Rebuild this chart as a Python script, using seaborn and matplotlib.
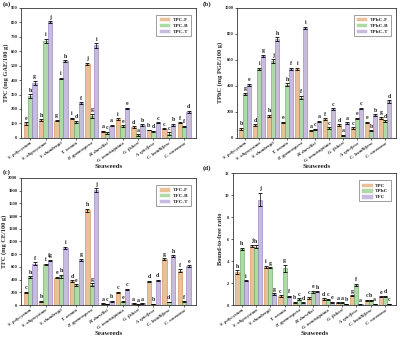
import numpy as np
import pandas as pd
import matplotlib
matplotlib.use('Agg')
import matplotlib.pyplot as plt
import seaborn as sns

# --- data ---
species = ['S. polycystum', 'S. oligocystum', 'S. thunbergii', 'T. ornata', 'P. gymnospora',
           'H. durvillei', 'G. tenuistipitata', 'G. fisheri', 'A. spicifera',
           'C. lentillifera', 'C. racemosa']

# (a) total phenolic content
tpc_f = [100, 125, 120, 135, 510, 45, 130, 75, 55, 65, 105]
tpc_b = [290, 670, 410, 110, 150, 35, 80, 20, 45, 30, 80]
tpc_t = [380, 800, 530, 240, 640, 85, 205, 90, 105, 90, 180]
tpc_err = [[8, 5, 5, 5, 8, 3, 5, 5, 3, 3, 4],
           [12, 15, 5, 8, 15, 8, 8, 5, 4, 8, 5],
           [15, 8, 8, 5, 15, 4, 5, 5, 4, 6, 8]]
tpc_let = [['e', 'h', 'g', 'i', 'j', 'a', 'i', 'd', 'b', 'c', 'f'],
           ['h', 'i', 'i', 'd', 'g', 'c', 'e', 'a', 'd', 'c', 'f'],
           ['g', 'j', 'h', 'f', 'i', 'a', 'e', 'b', 'c', 'b', 'd']]

# (b) total phlorotannin content
tphc_f = [70, 100, 170, 120, 530, 55, 145, 100, 75, 120, 155]
tphc_b = [340, 530, 590, 410, 310, 65, 75, 20, 150, 55, 130]
tphc_t = [410, 630, 760, 530, 845, 125, 220, 115, 225, 175, 280]
tphc_err = [[6, 5, 6, 5, 8, 5, 5, 5, 5, 5, 6],
            [8, 8, 15, 10, 12, 6, 5, 5, 6, 5, 6],
            [8, 8, 12, 8, 10, 6, 6, 5, 6, 6, 8]]
tphc_let = [['b', 'd', 'h', 'e', 'i', 'a', 'f', 'd', 'c', 'e', 'g'],
            ['g', 'i', 'j', 'h', 'f', 'c', 'c', 'a', 'e', 'b', 'd'],
            ['e', 'g', 'h', 'f', 'i', 'a', 'c', 'a', 'c', 'b', 'd']]

# (c) total flavonoid content
tfc_f = [200, 60, 430, 380, 1490, 25, 200, 25, 370, 720, 540]
tfc_b = [440, 640, 450, 310, 320, 15, 55, 10, 15, 45, 55]
tfc_t = [650, 700, 900, 710, 1810, 60, 250, 25, 390, 770, 610]
tfc_err = [[12, 8, 12, 12, 25, 5, 10, 4, 10, 12, 20],
           [15, 10, 25, 15, 25, 4, 6, 3, 4, 4, 5],
           [20, 15, 20, 20, 30, 6, 8, 4, 8, 10, 15]]
tfc_let = [['c', 'b', 'e', 'd', 'h', 'a', 'c', 'a', 'd', 'g', 'f'],
           ['h', 'i', 'h', 'e', 'g', 'c', 'e', 'a', 'b', 'd', 'f'],
           ['f', 'fg', 'i', 'g', 'j', 'b', 'c', 'a', 'd', 'h', 'e']]

# (d) bound-to-free ratio
ratio_tpc = [3.0, 5.4, 3.45, 0.8, 0.25, 0.65, 0.55, 0.2, 0.85, 0.45, 0.75]
ratio_tphc = [5.1, 5.3, 3.4, 3.35, 0.55, 1.2, 0.5, 0.2, 1.85, 0.45, 0.8]
ratio_tfc = [2.2, 9.6, 1.0, 0.8, 0.2, 1.2, 0.25, 0.1, 0.05, 0.1, 0.1]
ratio_err = [[0.15, 0.1, 0.1, 0.1, 0.05, 0.1, 0.05, 0.05, 0.05, 0.05, 0.05],
             [0.1, 0.15, 0.05, 0.3, 0.05, 0.1, 0.05, 0.05, 0.1, 0.05, 0.05],
             [0.05, 0.6, 0.05, 0.05, 0.05, 0.05, 0.05, 0.02, 0.02, 0.02, 0.02]]
ratio_let = [['h', 'j', 'i', 'c', 'b', 'c', 'd', 'a', 'g', 'c', 'e'],
             ['h', 'h', 'g', 'g', 'c', 'e', 'c', 'a', 'f', 'b', 'd'],
             ['i', 'j', 'g', 'f', 'd', 'h', 'e', 'b', 'a', 'a', 'c']]

colors = ['#F8C08A', '#A8E2A0', '#C6B6E4']
edges = ['#C98A4E', '#5FA25A', '#8C78B5']

sns.set_theme(style='ticks')
plt.rcParams['font.family'] = ['Liberation Serif', 'DejaVu Serif']
plt.rcParams['font.weight'] = 'bold'
plt.rcParams['axes.labelweight'] = 'bold'
plt.rcParams['axes.linewidth'] = 0.6
plt.rcParams['xtick.major.width'] = 0.5
plt.rcParams['ytick.major.width'] = 0.5
plt.rcParams['xtick.major.size'] = 1.6
plt.rcParams['ytick.major.size'] = 1.6

fig = plt.figure(figsize=(4.0, 3.38), dpi=100)

panels = [
    dict(rect=[0.0525, 0.592, 0.437, 0.385], vals=[tpc_f, tpc_b, tpc_t], err=tpc_err, let=tpc_let,
         names=['TPC-F', 'TPC-B', 'TPC-T'], ylabel='TPC (mg GAE/100 g)', ylim=900, step=100,
         tag='(a)', tagpos=(0.008, 0.997)),
    dict(rect=[0.5925, 0.592, 0.397, 0.385], vals=[tphc_f, tphc_b, tphc_t], err=tphc_err, let=tphc_let,
         names=['TPhC-F', 'TPhC-B', 'TPhC-T'], ylabel='TPhC (mg PGE/100 g)', ylim=1000, step=200,
         tag='(b)', tagpos=(0.507, 0.997)),
    dict(rect=[0.0525, 0.0976, 0.437, 0.376], vals=[tfc_f, tfc_b, tfc_t], err=tfc_err, let=tfc_let,
         names=['TFC-F', 'TFC-B', 'TFC-T'], ylabel='TFC (mg CE/100 g)', ylim=2000, step=200,
         tag='(c)', tagpos=(0.008, 0.5)),
    dict(rect=[0.5825, 0.0976, 0.407, 0.39], vals=[ratio_tpc, ratio_tphc, ratio_tfc], err=ratio_err,
         let=ratio_let, names=['TPC', 'TPhC', 'TFC'], ylabel='Bound-to-free ratio', ylim=12, step=2,
         tag='(d)', tagpos=(0.507, 0.51)),
]

for p in panels:
    ax = fig.add_axes(p['rect'])
    df = pd.DataFrame({
        'Seaweed': species * 3,
        'Fraction': np.repeat(p['names'], len(species)),
        'Value': np.concatenate(p['vals']),
    })
    sns.barplot(data=df, x='Seaweed', y='Value', hue='Fraction', palette=colors, width=0.86,
                errorbar=None, linewidth=0.4, ax=ax)
    off = p['ylim'] * 0.012
    for cont, err, lets, ec in zip(ax.containers, p['err'], p['let'], edges):
        xs = [b.get_x() + b.get_width() / 2 for b in cont]
        hs = [b.get_height() for b in cont]
        for b in cont:
            b.set_edgecolor(ec)
        ax.errorbar(xs, hs, yerr=err, fmt='none', ecolor='black', elinewidth=0.5,
                    capsize=1.3, capthick=0.6)
        for x, h, e, t in zip(xs, hs, err, lets):
            ax.text(x, h + e + off, t, ha='center', va='bottom', fontsize=4.2,
                    fontweight='bold', color='#222222')

    ax.set_xlim(-0.6, 10.75)
    ax.set_ylim(0, p['ylim'])
    ax.set_yticks(np.arange(0, p['ylim'] + p['step'] / 2, p['step']))
    ax.tick_params(axis='y', labelsize=3.3, pad=1)
    ax.tick_params(axis='x', labelsize=3.4, pad=0.8)
    ax.set_xticks(range(len(species)))
    ax.set_xticklabels(species, rotation=35, ha='right', rotation_mode='anchor',
                       fontstyle='italic')
    ax.set_xlabel('Seaweeds', fontsize=5.0, labelpad=1)
    ax.set_ylabel(p['ylabel'], fontsize=4.6, labelpad=1.2)
    for s in ax.spines.values():
        s.set_visible(True)
        s.set_color('#333333')
    leg = ax.legend(loc='upper right', fontsize=3.8, frameon=True, fancybox=False,
                    edgecolor='#555555', handlelength=2.2, handleheight=0.9,
                    borderpad=0.4, labelspacing=0.15, handletextpad=0.5,
                    bbox_to_anchor=(0.985, 0.965))
    leg.get_frame().set_linewidth(0.5)
    fig.text(p['tagpos'][0], p['tagpos'][1], p['tag'], fontsize=5.0, fontweight='bold',
             ha='left', va='top')

fig.savefig('out.png', dpi=100)
